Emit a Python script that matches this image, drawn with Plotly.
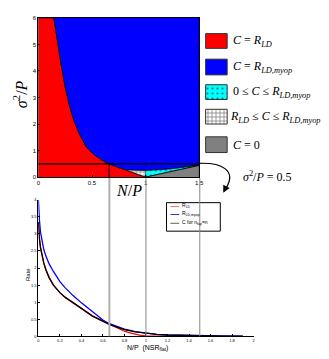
import plotly.graph_objects as go

# the page puts the figure 8px in from the top-left corner
OFF = 8
WF, HF = 329 - OFF, 359 - OFF

# top panel: regions in the (N/P, sigma^2/P) plane
bound_x = [0.145, 0.175, 0.21, 0.25, 0.29, 0.33, 0.38, 0.45, 0.52, 0.59, 0.66]
bound_y = [6.0, 5.2, 4.3, 3.4, 2.7, 2.15, 1.65, 1.12, 0.85, 0.65, 0.5]
red_low_x = [0.66, 0.74, 0.82, 0.88, 0.94, 1.0]
red_low_y = [0.5, 0.37, 0.26, 0.17, 0.09, 0.0]
blue_low_x = [0.66, 0.74, 0.82, 0.9, 1.0, 1.1, 1.2, 1.3, 1.4, 1.5]
blue_low_y = [0.5, 0.37, 0.27, 0.25, 0.25, 0.27, 0.3, 0.34, 0.39, 0.45]
zero_x = [1.0, 1.5]
zero_y = [0.0, 0.44]
sigma_level = 0.5
np_marks = [0.66, 1.0, 1.5]
top_xticks = [0, 0.5, 1, 1.5]
top_yticks = [0, 1, 2, 3, 4, 5, 6]

# bottom panel: rates vs N/P
rate_x = [0, 0.005, 0.01, 0.02, 0.03, 0.05, 0.07, 0.1, 0.14, 0.2, 0.25, 0.32, 0.4,
          0.5, 0.6, 0.66, 0.75, 0.8, 0.9, 1.0, 1.1, 1.2, 1.3, 1.5, 1.7, 1.9]
rate_c = [3.35, 3.05, 2.85, 2.6, 2.42, 2.15, 1.95, 1.72, 1.5, 1.28, 1.14, 0.98, 0.82,
          0.6, 0.43, 0.35, 0.25, 0.2, 0.13, 0.09, 0.06, 0.04, 0.03, 0.015, 0.008, 0.004]
rate_myop = [4.0, 3.6, 3.4, 3.05, 2.85, 2.55, 2.35, 2.12, 1.9, 1.6, 1.42, 1.2, 0.98,
             0.72, 0.48, 0.37, 0.26, 0.21, 0.14, 0.09, 0.06, 0.04, 0.03, 0.018, 0.012, 0.008]
rld_x = [0, 0.005, 0.01, 0.02, 0.03, 0.05, 0.07, 0.1, 0.14, 0.2, 0.25, 0.32, 0.4,
         0.5, 0.6, 0.66, 0.7, 0.75, 0.8, 0.85, 0.9, 0.95, 1.0, 1.1, 1.2]
rld_y = [3.35, 3.05, 2.85, 2.6, 2.42, 2.15, 1.95, 1.72, 1.5, 1.28, 1.14, 0.98, 0.82,
         0.6, 0.43, 0.35, 0.3, 0.22, 0.15, 0.1, 0.06, 0.03, 0.015, 0.005, 0.0]
bot_xticks = [0, 0.2, 0.4, 0.6, 0.8, 1, 1.2, 1.4, 1.6, 1.8, 2]
bot_yticks = [0, 0.5, 1, 1.5, 2, 2.5, 3, 3.5, 4]

SERIF = "Liberation Serif"
SANS = "Liberation Sans"


def px(x):
    return (x - OFF) / WF


def py(y):
    return 1 - (y - OFF) / HF


fig = go.Figure()

# regions
i0 = blue_low_x.index(0.82)
i1 = blue_low_x.index(1.0)
j0 = red_low_x.index(0.82)
dots = dict(shape=".", bgcolor="#00ffff", fgcolor="black", size=5, solidity=0.15)
grid = dict(shape="+", bgcolor="white", fgcolor="black", size=4, solidity=0.35)
regions = [
    ([0, 0] + bound_x + red_low_x[1:], [0, 6] + bound_y + red_low_y[1:], "#ff0000", None),
    (bound_x + blue_low_x[1:] + [1.5], bound_y + blue_low_y[1:] + [6], "#0000ff", None),
    (blue_low_x[i0:i1 + 1] + red_low_x[j0:][::-1], blue_low_y[i0:i1 + 1] + red_low_y[j0:][::-1],
     "white", grid),
    (blue_low_x[i1:] + zero_x[::-1], blue_low_y[i1:] + zero_y[::-1], "#00ffff", dots),
    (zero_x + [1.5], zero_y + [0], "#808080", None),
]
for rx, ry, col, pat in regions:
    kw = dict(fillpattern=pat) if pat else {}
    fig.add_trace(go.Scatter(x=rx, y=ry, mode="lines", fill="toself", fillcolor=col,
                             line=dict(color="black", width=0.8), hoverinfo="skip",
                             xaxis="x", yaxis="y", **kw))

# rate curves
fig.add_trace(go.Scatter(x=rld_x, y=rld_y, mode="lines", line=dict(color="red", width=1.3),
                         xaxis="x2", yaxis="y2"))
fig.add_trace(go.Scatter(x=rate_x, y=rate_myop, mode="lines", line=dict(color="blue", width=1.3),
                         xaxis="x2", yaxis="y2"))
fig.add_trace(go.Scatter(x=rate_x, y=rate_c, mode="lines", line=dict(color="black", width=1.3),
                         xaxis="x2", yaxis="y2"))

# legend swatches of the top panel (page-pixel overlay axis)
swatches = [(31, 46, "#ff0000", None), (57, 73, "#0000ff", None), (83, 98, "#00ffff", dots),
            (108, 123, "white", grid), (136, 152, "#808080", None)]
for y0, y1, col, pat in swatches:
    kw = dict(fillpattern=pat) if pat else {}
    fig.add_trace(go.Scatter(x=[208, 230, 230, 208, 208], y=[y0, y0, y1, y1, y0], mode="lines",
                             fill="toself", fillcolor=col, line=dict(color="#333", width=1),
                             hoverinfo="skip", xaxis="x3", yaxis="y3", **kw))


def label(x, y, text, size, family=SANS, xanchor="center", angle=0):
    return dict(x=px(x), y=py(y), xref="paper", yref="paper", text=text, showarrow=False,
                xanchor=xanchor, yanchor="middle", textangle=angle,
                font=dict(family=family, size=size, color="black"))


legend_txt = [
    (234, 39, "<i>C</i> = <i>R<sub>LD</sub></i>"),
    (234, 65, "<i>C</i> = <i>R<sub>LD,myop</sub></i>"),
    (234, 90, "0 ≤ <i>C</i> ≤ <i>R<sub>LD,myop</sub></i>"),
    (231, 116, "<i>R<sub>LD</sub></i> ≤ <i>C</i> ≤ <i>R<sub>LD,myop</sub></i>"),
    (234, 144, "<i>C</i> = 0"),
    (244, 176, "<i>σ</i><sup>2</sup>/<i>P</i> = 0.5"),
]
ann = [label(x, y, t, 12, SERIF, "left") for x, y, t in legend_txt]

# axis titles
ann.append(label(130, 191, "<i>N</i>/<i>P</i>", 16, SERIF))
ann.append(label(18, 93, "<i>σ</i><sup>2</sup>/<i>P</i>", 16, SERIF, angle=-90))
ann.append(label(27, 276, "Rate", 6, angle=-90))
ann.append(label(149, 351, "N/P  (NSR<sub>flat</sub>)", 7))

# bottom legend
bot_leg = [(207, "#f07070", "R<sub>LD</sub>"), (215, "#3030e0", "R<sub>LD,myop</sub>"),
           (224, "#606060", "C for n<sub>fap</sub>=n")]
shapes = [dict(type="rect", xref="x3", yref="y3", x0=168, x1=223, y0=203, y1=232,
               line=dict(color="black", width=1), fillcolor="white", layer="below")]
for y, col, t in bot_leg:
    shapes.append(dict(type="line", xref="x3", yref="y3", x0=172, x1=181, y0=y, y1=y,
                       line=dict(color=col, width=1)))
    ann.append(label(182, y - 1, t, 5, xanchor="left"))

# sigma^2/P = 0.5 line and N/P markers
shapes.append(dict(type="line", xref="x", yref="y", x0=0, x1=1.5, y0=sigma_level, y1=sigma_level,
                   line=dict(color="black", width=1.2)))
shapes.append(dict(type="line", xref="x", yref="y", x0=np_marks[0], x1=np_marks[0], y0=0, y1=sigma_level,
                   line=dict(color="black", width=1)))
for k, xm in enumerate(np_marks):
    shapes.append(dict(type="line", xref="x2", yref="y3", x0=xm, x1=xm, y0=178, y1=339,
                       line=dict(color="#b0b0b0" if k == 0 else "#888888", width=2 if k == 0 else 1)))

# curved arrow
shapes.append(dict(type="path", xref="x3", yref="y3", path="M 201 163 C 224 162, 240 170, 229 188",
                   line=dict(color="black", width=1.2)))
ann.append(dict(x=226, y=193, ax=229, ay=187, xref="x3", yref="y3", axref="x3", ayref="y3",
                text="", showarrow=True, arrowhead=2, arrowsize=1.2, arrowwidth=1.2, arrowcolor="black"))

axis_common = dict(showgrid=False, zeroline=False, showline=True, linecolor="black", linewidth=1,
                   ticks="inside", tickcolor="black", tickwidth=1)
fig.update_layout(
    width=WF, height=HF, margin=dict(l=0, r=0, t=0, b=0), showlegend=False,
    paper_bgcolor="white", plot_bgcolor="rgba(0,0,0,0)",
    xaxis=dict(domain=[px(37), px(201.5)], range=[0, 1.5], anchor="y", mirror=True,
               tickvals=top_xticks, ticktext=["0", "0.5", "1", "1.5"], ticklen=2,
               tickfont=dict(family=SANS, size=6, color="black"), **axis_common),
    yaxis=dict(domain=[py(177), py(15)], range=[0, 6], anchor="x", mirror=True,
               tickvals=top_yticks, ticklen=2,
               tickfont=dict(family=SANS, size=6, color="black"), **axis_common),
    xaxis2=dict(domain=[px(37), px(257)], range=[0, 2], anchor="y2",
                tickvals=bot_xticks,
                ticktext=["0", "0.2", "0.4", "0.6", "0.8", "1", "1.2", "1.4", "1.6", "1.8", "2"],
                ticklen=2, tickfont=dict(family=SANS, size=4, color="black"), **axis_common),
    yaxis2=dict(domain=[py(339), py(200)], range=[0, 4], anchor="x2",
                tickvals=bot_yticks, ticktext=["0", "0.5", "1", "1.5", "2", "2.5", "3", "3.5", "4"],
                ticklen=2, tickfont=dict(family=SANS, size=4, color="black"), **axis_common),
    xaxis3=dict(domain=[0, 1], range=[OFF, 329], anchor="y3", visible=False, fixedrange=True),
    yaxis3=dict(domain=[0, 1], range=[359, OFF], anchor="x3", visible=False, fixedrange=True),
    annotations=ann, shapes=shapes,
)

fig.write_html("out.html")
